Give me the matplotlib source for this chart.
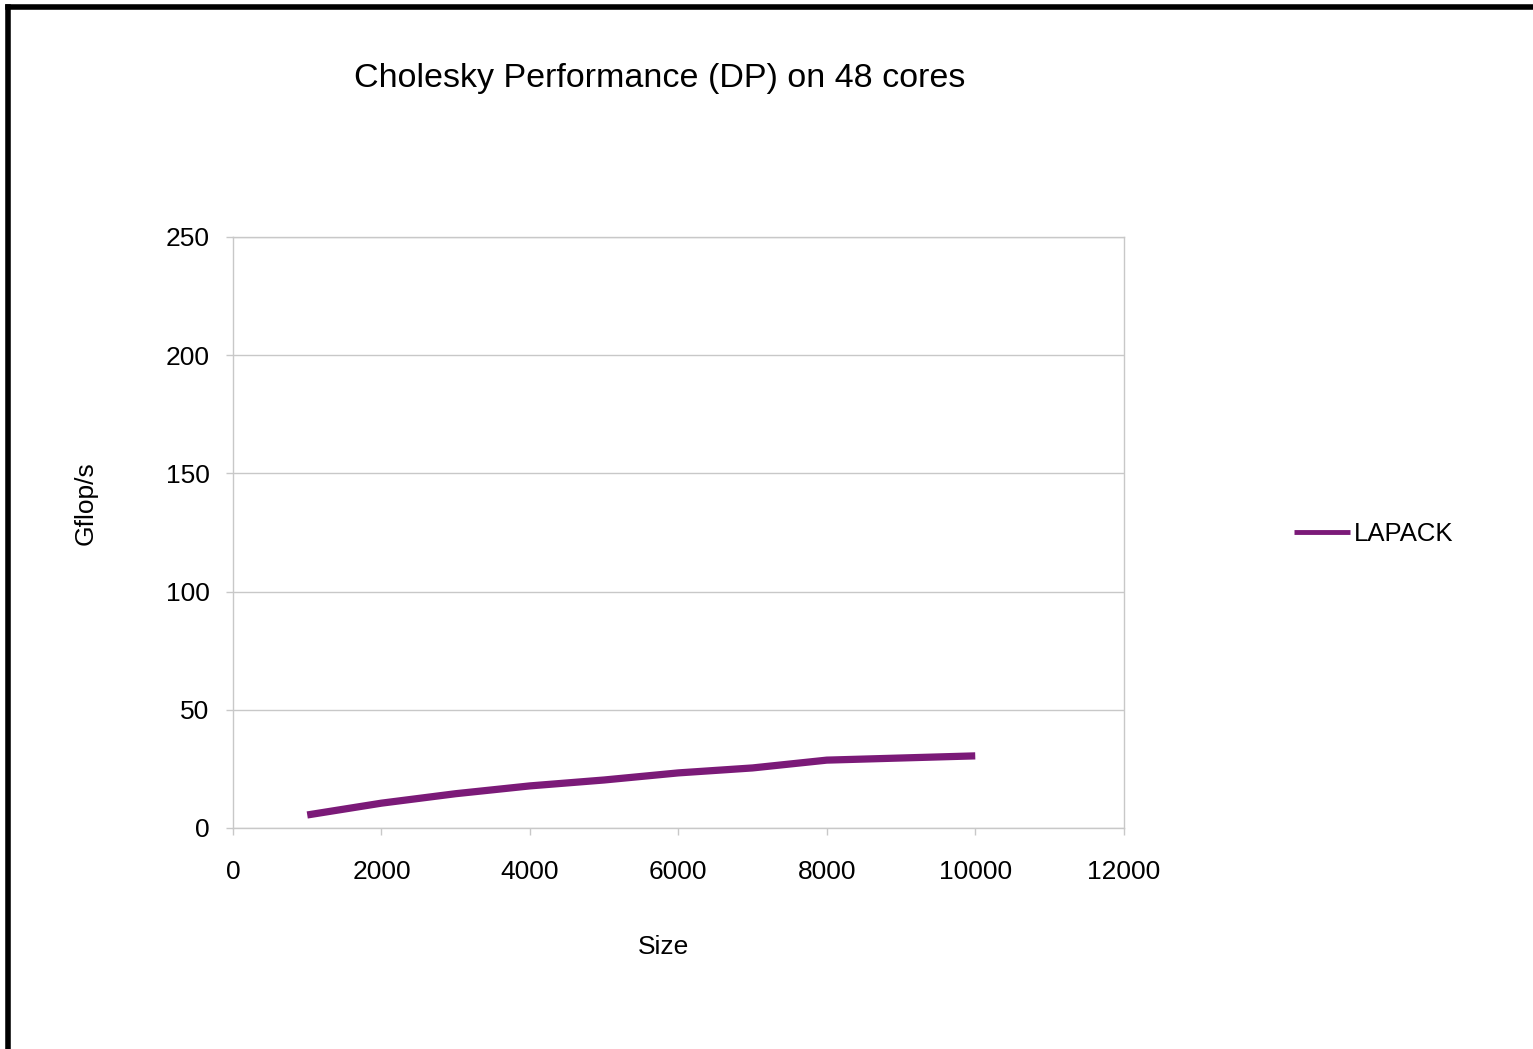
import matplotlib.pyplot as plt
from matplotlib.lines import Line2D

plt.rcParams['font.family'] = ['Liberation Sans', 'DejaVu Sans']

sizes = [1000, 2000, 3000, 4000, 5000, 6000, 7000, 8000, 9000, 10000]
lapack = [5.5, 10.5, 14.5, 17.8, 20.3, 23.3, 25.4, 28.7, 29.6, 30.5]

xticks = [0, 2000, 4000, 6000, 8000, 10000, 12000]
yticks = [0, 50, 100, 150, 200, 250]

fig = plt.figure(figsize=(15.33, 10.49), dpi=100)
ax = fig.add_axes([0.152, 0.2107, 0.581, 0.5634])

ax.plot(sizes, lapack, color='#7b1a78', lw=5.2, solid_capstyle='butt', label='LAPACK')

ax.set_xlim(0, 12000)
ax.set_ylim(0, 250)
ax.set_xticks(xticks)
ax.set_yticks(yticks)
ax.grid(axis='y', color='#c8c8c8', lw=1)
ax.set_axisbelow(True)
for s in ax.spines.values():
    s.set_color('#c8c8c8')
    s.set_linewidth(1)
ax.tick_params(colors='#c8c8c8', labelcolor='black', labelsize=19, length=5, width=1, pad=12)
ax.tick_params(axis='x', pad=18)

fig.text(0.4305, 0.9255, 'Cholesky Performance (DP) on 48 cores', ha='center', va='center', fontsize=24.5)
fig.text(0.4325, 0.097, 'Size', ha='center', va='center', fontsize=19)
fig.text(0.056, 0.52, 'Gflop/s', ha='center', va='center', rotation=90, fontsize=19)

leg = ax.legend(loc='center left', bbox_to_anchor=(1.18, 0.497), frameon=False, fontsize=18.5,
                handlelength=2.15, handletextpad=0.15, borderaxespad=0)
leg.get_lines()[0].set_linewidth(3.5)

# black border on the top and left edge
fig.add_artist(Line2D([0.0055, 0.0055], [0, 0.9935], transform=fig.transFigure, color='black', lw=4))
fig.add_artist(Line2D([0.0055, 1], [0.9935, 0.9935], transform=fig.transFigure, color='black', lw=4))

fig.savefig('out.png', dpi=100, facecolor='white')
